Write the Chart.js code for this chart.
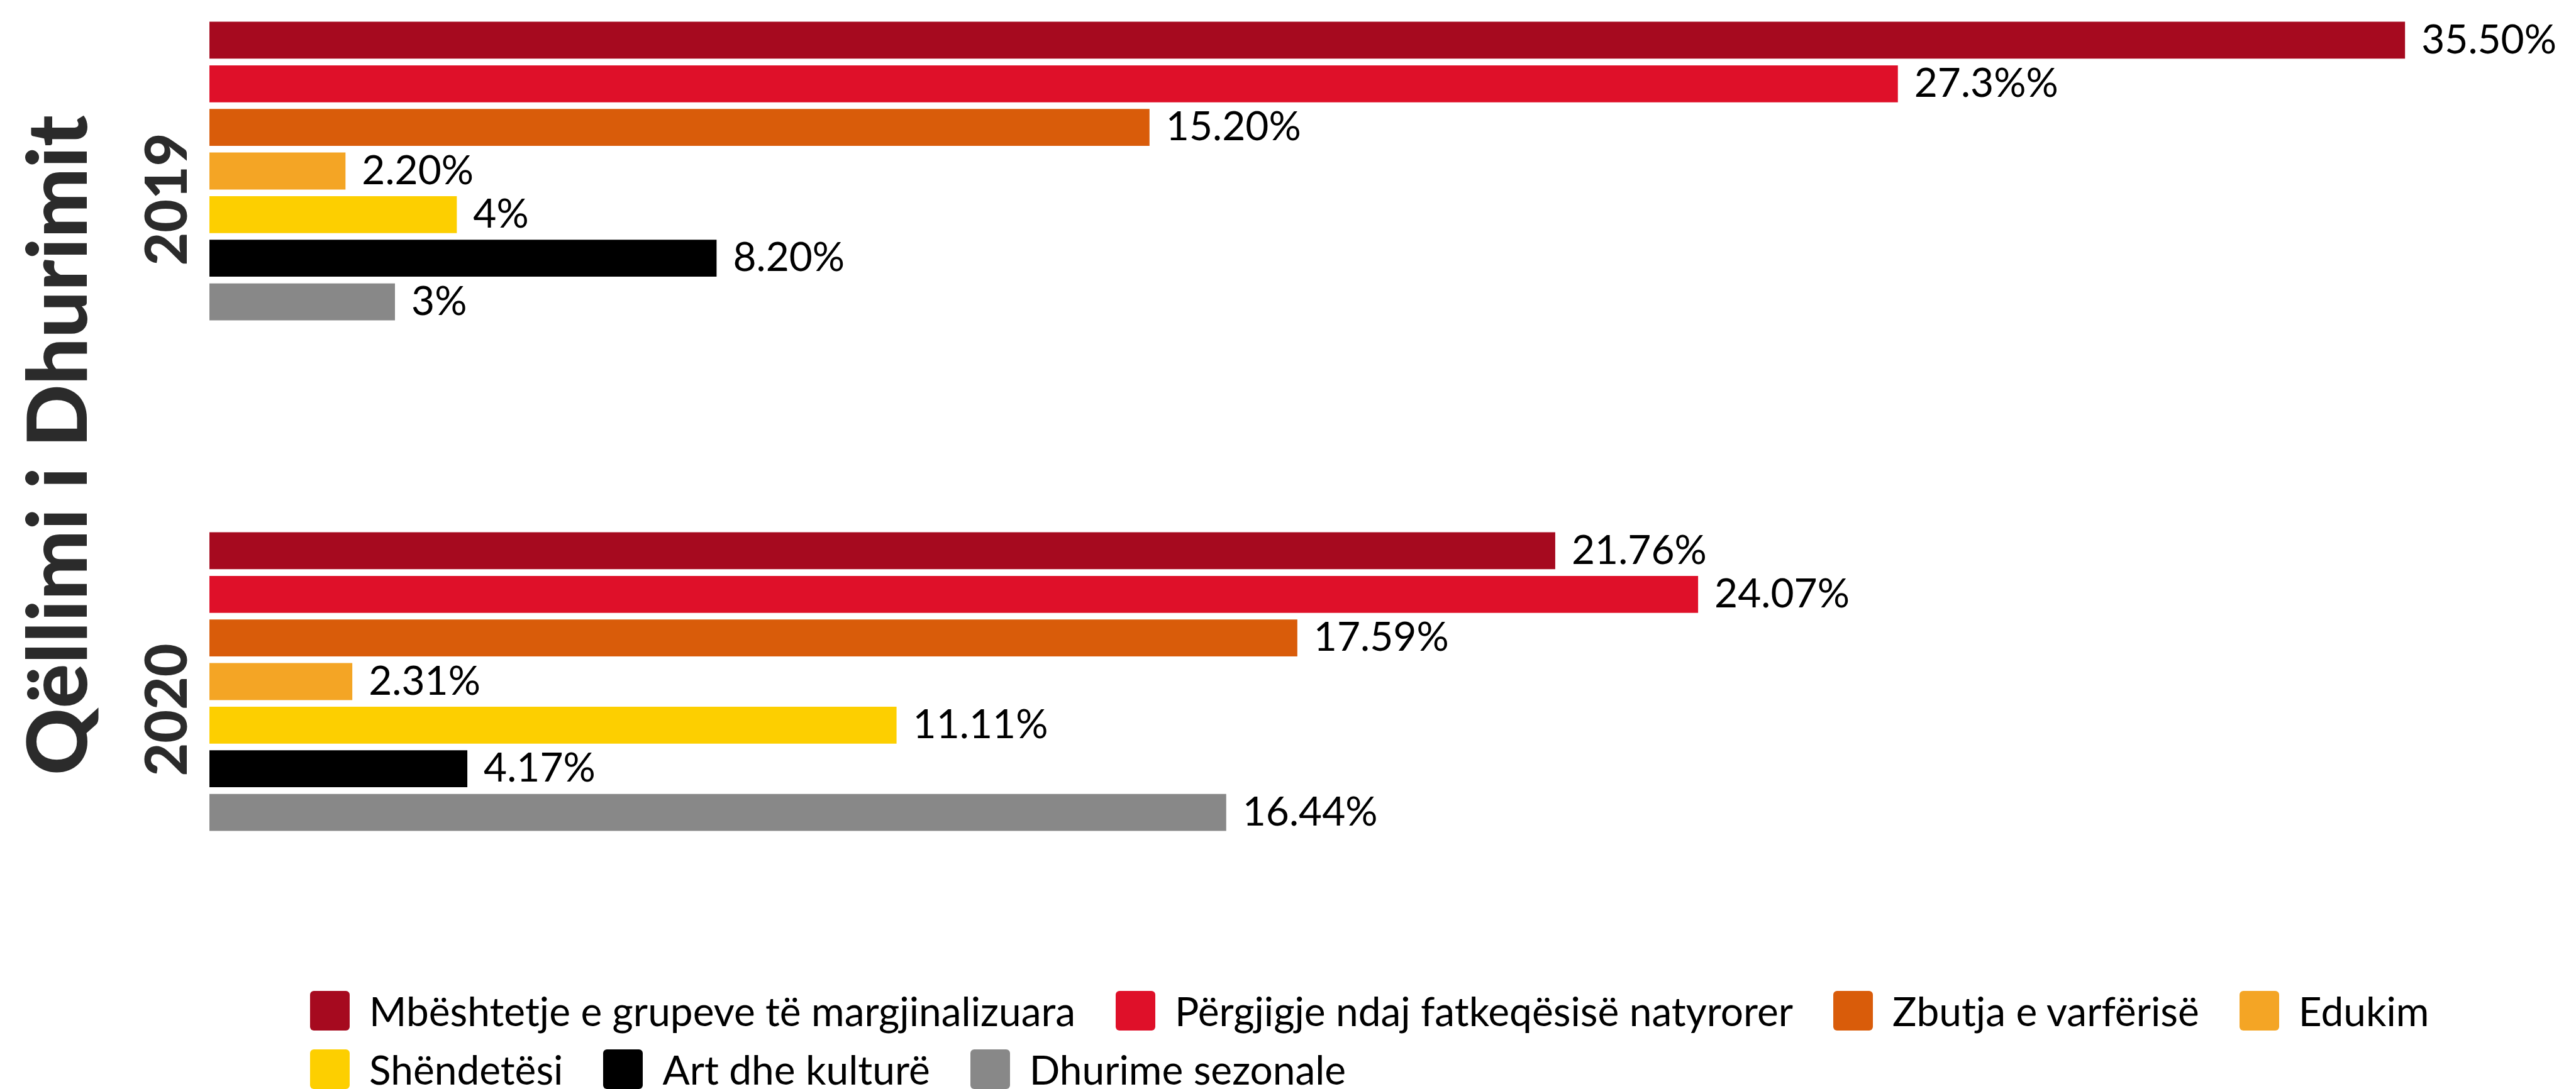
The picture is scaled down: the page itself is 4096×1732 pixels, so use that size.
<!DOCTYPE html>
<html>
<head>
<meta charset="utf-8">
<title>Qëllimi i Dhurimit</title>
<script src="https://cdn.jsdelivr.net/npm/chart.js@4/dist/chart.umd.min.js"></script>
<style>
  html, body { margin: 0; padding: 0; background: #fff; }
  #wrap { position: relative; width: 4096px; height: 1732px; }
  #legend {
    position: absolute; left: 493px; top: 1576px; width: 3560px;
    display: flex; flex-wrap: wrap; column-gap: 64px; row-gap: 30px;
    font-family: Lato, sans-serif; font-size: 64px; color: #000;
  }
  .item { display: flex; align-items: center; height: 63px; line-height: 63px; white-space: nowrap; }
  .box { width: 63px; height: 63px; border-radius: 6px; margin-right: 31px; flex: none; }
</style>
</head>
<body>
<div id="wrap">
  <canvas id="chart"></canvas>
  <div id="legend"></div>
</div>
<script>
const years = ["2019", "2020"];
const purposes = [
    "Mbështetje e grupeve të margjinalizuara",
    "Përgjigje ndaj fatkeqësisë natyrorer",
    "Zbutja e varfërisë",
    "Edukim",
    "Shëndetësi",
    "Art dhe kulturë",
    "Dhurime sezonale"
];
const colors = ["#a60a1f", "#df1029", "#d95c0a", "#f4a525", "#fdcf00", "#000000", "#888888"];

const values2019 = [35.5, 27.3, 15.2, 2.2, 4, 8.2, 3];
const values2020 = [21.76, 24.07, 17.59, 2.31, 11.11, 4.17, 16.44];
const labels2019 = ["35.50%", "27.3%%", "15.20%", "2.20%", "4%", "8.20%", "3%"];
const labels2020 = ["21.76%", "24.07%", "17.59%", "2.31%", "11.11%", "4.17%", "16.44%"];

const axisTitle = "Qëllimi i Dhurimit";
const barLabels = [labels2019, labels2020];

// value labels at the end of each bar
const valueLabels = {
    id: "valueLabels",
    afterDatasetsDraw(chart) {
        const ctx = chart.ctx;
        ctx.save();
        ctx.font = "64px Lato";
        ctx.fillStyle = "#000";
        ctx.textAlign = "left";
        ctx.textBaseline = "middle";
        chart.data.datasets.forEach((ds, i) => {
            chart.getDatasetMeta(i).data.forEach((bar, j) => {
                ctx.fillText(barLabels[j][i], bar.x + 26, bar.y);
            });
        });
        ctx.restore();
    }
};

// rotated axis title, a little below the middle of the two groups
const yTitle = {
    id: "yTitle",
    afterDraw(chart) {
        const y = chart.scales.y;
        const mid = (y.getPixelForValue(0) + y.getPixelForValue(1)) / 2;
        const ctx = chart.ctx;
        ctx.save();
        ctx.translate(138, mid + 30);
        ctx.rotate(-Math.PI / 2);
        ctx.font = "900 132px Lato";
        ctx.fillStyle = "#2b2b2b";
        ctx.textAlign = "center";
        ctx.textBaseline = "alphabetic";
        ctx.fillText(axisTitle, 0, 0);
        ctx.restore();
    }
};

// html legend, left aligned in two rows
const htmlLegend = {
    id: "htmlLegend",
    afterUpdate(chart) {
        const box = document.getElementById("legend");
        box.innerHTML = "";
        chart.data.datasets.forEach(ds => {
            const item = document.createElement("div");
            item.className = "item";
            const sw = document.createElement("span");
            sw.className = "box";
            sw.style.background = ds.backgroundColor;
            item.appendChild(sw);
            item.appendChild(document.createTextNode(ds.label));
            box.appendChild(item);
        });
    }
};

const datasets = purposes.map((name, i) => ({
    label: name,
    data: [values2019[i], values2020[i]],
    backgroundColor: colors[i],
    categoryPercentage: 0.598,
    barPercentage: 0.847,
    clip: false
}));

new Chart(document.getElementById("chart"), {
    type: "bar",
    data: { labels: years, datasets: datasets },
    options: {
        indexAxis: "y",
        responsive: true,
        maintainAspectRatio: false,
        animation: false,
        layout: { padding: { top: 272, bottom: 648, left: 0, right: 26 } },
        plugins: {
            legend: { display: false },
            tooltip: { enabled: false }
        },
        scales: {
            x: { display: false, min: 0, max: 38 },
            y: {
                offset: false,
                grid: { display: false, drawTicks: false },
                border: { display: false },
                afterFit: (scale) => { scale.width = 333; },
                ticks: {
                    minRotation: 90,
                    maxRotation: 90,
                    crossAlign: "center",
                    padding: -40,
                    labelOffset: 45,
                    color: "#2b2b2b",
                    font: { family: "Lato", size: 91, weight: 900 }
                }
            }
        }
    },
    plugins: [valueLabels, yTitle, htmlLegend]
});
</script>
</body>
</html>
